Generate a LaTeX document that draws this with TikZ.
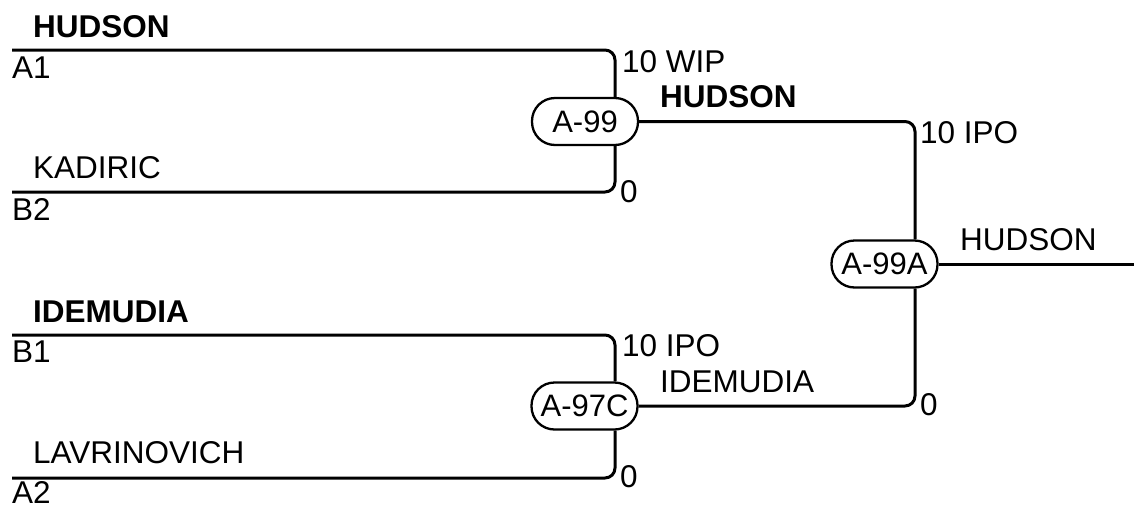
\documentclass[tikz,border=0pt]{standalone}
\usepackage{fontspec}
\setmainfont{Liberation Sans}
\begin{document}
\begin{tikzpicture}[x=1pt,y=-1pt,
  lbl/.style={anchor=base west,inner sep=0pt,font=\fontsize{31.5}{36}\selectfont},
  blbl/.style={lbl,font=\fontsize{31.5}{36}\selectfont\bfseries},
  game/.style={draw,line width=2.3pt,fill=white,rounded corners=23pt,minimum width=106pt,minimum height=47pt,inner sep=0pt,font=\fontsize{31}{36}\selectfont},
  wire/.style={line width=3pt,rounded corners=10pt}]
\useasboundingbox (0,0) rectangle (1134,504);
% game nodes
\node[game] (a99) at (585,121.5) {A-99};
\node[game] (a97c) at (584.5,406) {A-97C};
\node[game] (a99a) at (884.5,264) {A-99A};
% coordinates
\coordinate (a1) at (12,50);
\coordinate (ja1) at (615,50);
\coordinate (b2) at (12,192);
\coordinate (jb2) at (615,192);
\coordinate (b1) at (12,335);
\coordinate (jb1) at (615,335);
\coordinate (a2) at (12,478);
\coordinate (ja2) at (615,478);
\coordinate (jt) at (915,121.5);
\coordinate (jb) at (915,406);
\coordinate (out) at (1134,264);
% wires
\draw[wire] (a1) -- (ja1) -- (ja1 |- a99.north);
\draw[wire] (b2) -- (jb2) -- (jb2 |- a99.south);
\draw[wire] (b1) -- (jb1) -- (jb1 |- a97c.north);
\draw[wire] (a2) -- (ja2) -- (ja2 |- a97c.south);
\draw[wire] (a99.east) -- (jt) -- (jt |- a99a.north);
\draw[wire] (a97c.east) -- (jb) -- (jb |- a99a.south);
\draw[wire] (a99a.east) -- (out);
% labels
\node[blbl] (l1) at (33,37) {HUDSON};
\node[lbl] (l2) at (12,78) {A1};
\node[lbl] (l3) at (33,178) {KADIRIC};
\node[lbl] (l4) at (12,220) {B2};
\node[blbl] (l5) at (33,322) {IDEMUDIA};
\node[lbl] (l6) at (12,362) {B1};
\node[lbl] (l7) at (33,463) {LAVRINOVICH};
\node[lbl] (l8) at (12,503) {A2};
\node[lbl] (s1) at (622,72) {10 WIP};
\node[lbl] (s2) at (620,202) {0};
\node[blbl] (w1) at (660,107) {HUDSON};
\node[lbl] (s3) at (622,356) {10 IPO};
\node[lbl] (w2) at (660,392) {IDEMUDIA};
\node[lbl] (s4) at (620,487) {0};
\node[lbl] (s5) at (920,143) {10 IPO};
\node[lbl] (s6) at (920,415) {0};
\node[lbl] (w3) at (960,250) {HUDSON};
\end{tikzpicture}
\end{document}
